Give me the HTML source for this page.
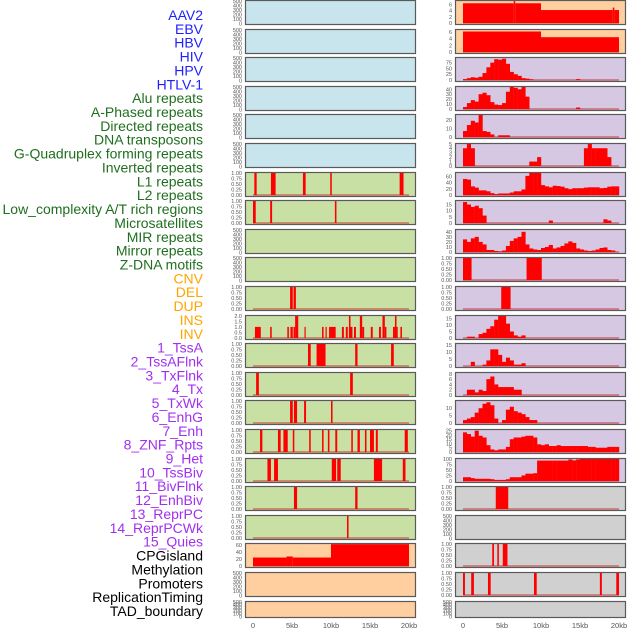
<!DOCTYPE html>
<html><head><meta charset="utf-8">
<style>
html,body{margin:0;padding:0;background:#fff;width:630px;height:630px;overflow:hidden}
svg{display:block;font-family:"Liberation Sans",sans-serif}
</style></head>
<body>
<svg id="chart" width="630" height="630" viewBox="0 0 630 630"></svg>
<script>
const labels = ["AAV2","EBV","HBV","HIV","HPV","HTLV-1","Alu repeats","A-Phased repeats","Directed repeats","DNA transposons","G-Quadruplex forming repeats","Inverted repeats","L1 repeats","L2 repeats","Low_complexity A/T rich regions","Microsatellites","MIR repeats","Mirror repeats","Z-DNA motifs","CNV","DEL","DUP","INS","INV","1_TssA","2_TssAFlnk","3_TxFlnk","4_Tx","5_TxWk","6_EnhG","7_Enh","8_ZNF_Rpts","9_Het","10_TssBiv","11_BivFlnk","12_EnhBiv","13_ReprPC","14_ReprPCWk","15_Quies","CPGisland","Methylation","Promoters","ReplicationTiming","TAD_boundary"];
const labelGroups = ["virus","virus","virus","virus","virus","virus","repeat","repeat","repeat","repeat","repeat","repeat","repeat","repeat","repeat","repeat","repeat","repeat","repeat","sv","sv","sv","sv","sv","hmm","hmm","hmm","hmm","hmm","hmm","hmm","hmm","hmm","hmm","hmm","hmm","hmm","hmm","hmm","other","other","other","other","other"];
const xTickKb = [0,5,10,15,20];
const xTickLabels = ["0","5kb","10kb","15kb","20kb"];
const binKb = 0.5;

// interval events [startKb, endKb, value]
const evAlu = [[0.17,0.47,1],[2.3,2.9,1],[6.4,6.75,1],[9.9,10.1,1],[18.8,19.3,1]];
const evAPhased = [[0,0.35,1],[2.2,2.45,1],[10.5,10.7,1]];
const evGQuad = [[4.75,5.1,1],[5.2,5.5,1]];
const evInverted = [[0.25,1.0,1],[2.2,2.4,1],[4.4,4.6,1],[4.8,5.1,1],[5.2,5.4,1],[5.4,5.8,2],[6.6,6.75,1],[8.85,9.05,1],[9.3,9.45,1],[9.75,10.6,1],[11.4,11.65,1],[11.9,12.15,1],[12.3,12.5,2],[12.5,12.75,1],[12.95,13.2,1],[13.7,14.0,2],[14.0,14.25,1],[15.1,15.35,1],[16.15,16.4,1],[16.6,16.9,2],[16.9,17.1,1],[17.95,18.2,1],[18.2,18.4,2],[18.4,18.55,1],[18.9,19.1,1]];
const evL1 = [[7.05,7.4,1],[8.15,9.3,1],[13.1,13.4,1],[17.7,18.05,1]];
const evL2 = [[0.4,0.75,1],[12.45,12.8,1]];
const evLowComp = [[4.75,5.1,1],[5.25,5.65,1],[6.55,6.8,1],[10.0,10.2,1]];
const evMicrosat = [[0.9,1.2,1],[3.2,3.55,1],[3.9,4.45,1],[5.1,5.3,1],[7.2,7.4,1],[8.85,9.05,1],[9.6,9.8,1],[10.55,10.8,1],[12.6,12.8,1],[13.4,13.7,1],[14.35,14.55,1],[15.0,15.5,1],[15.75,16.0,1],[19.45,19.85,1]];
const evMIR = [[1.85,2.3,1],[2.7,3.2,1],[10.1,10.65,1],[10.8,11.25,1],[15.5,16.55,1],[19.2,19.55,1]];
const evMirror = [[5.25,5.65,1],[13.1,13.4,1]];
const evZDNA = [[12.05,12.25,1]];
const evCNV = [[0,4.3,24],[4.3,5.1,27],[5.1,10,24],[10,20,62]];
const evINS = [[0,6.5,6.4],[6.5,6.7,7.1],[6.7,10,6.4],[10,19.2,4.2],[19.2,19.4,5],[19.4,20,4.2]];
const evINV = [[0,10,6.1],[10,20,4.4]];
const evZNF = [[0,1.1,1],[8.15,10.1,1]];
const evHet = [[4.9,6.1,1]];
const evCPG = [[4.2,5.8,1]];
const evPromoters = [[3.75,3.97,1],[4.4,4.6,1],[5.1,5.7,1]];
const evRepTiming = [[0,0.25,1],[1.05,1.4,1],[3.2,3.55,1],[9.1,9.45,1],[17.55,17.8,1],[19.65,20,1]];

// histograms: 40 bins of 0.5 kb over 0..20 kb
const hTssA = [4,8,12,10,14,30,55,75,90,88,92,70,35,25,18,8,6,3,0,0,0,0,0,0,0,0,0,0,0,4,0,0,0,0,0,0,0,0,0,0];
const hTssAFlnk = [4,12,18,15,30,33,28,14,9,8,12,35,45,43,40,45,25,0,0,0,0,0,0,0,0,0,0,0,0,3,0,0,0,0,0,0,0,0,0,0];
const hTxFlnk = [7,14,19,17,26,7,6,3,0,2,2,2,0,0,0,0,0,0,0,0,0,0,0,0,0,0,0,0,0,0,0,0,0,0,0,0,0,0,0,0];
const hTx = [4,5,4,0,0,0,0,0,0,0,0,0,0,0,0,0,0,1,1,2,0,0,0,0,0,0,0,0,0,0,0,4,5,4,4,4,4,2,0,0];
const hTxWk = [52,50,28,24,15,15,12,6,3,5,5,5,8,12,12,18,62,72,72,72,32,28,25,30,29,27,22,19,22,22,22,24,25,25,25,22,23,27,28,28];
const hEnhG = [17,15,13,14,12,6,0,0,0,0,0,0,0,0,0,0,0,0,0,0,0,0,2,0,0,0,0,0,0,0,0,0,0,0,0,0,3,2,0,0];
const hEnh = [25,20,27,30,20,15,4,4,2,1,3,12,22,27,30,40,15,7,5,4,8,10,14,7,9,12,17,21,18,7,5,3,2,3,5,8,9,4,3,0];
const hTssBiv = [0,1,1,0,3,4,7,9,14,17,17,11,5,2,1,2,0,0,0,0,0,0,0,0,0,0,0,0,0,0,0,0,0,0,0,0,0,0,0,0];
const hBivFlnk = [0,0,3,0,0,1,4,12,12,8,3,6,4,1,1,2,0,0,0,0,0,0,0,0,0,0,0,0,0,0,0,0,0,0,0,0,0,0,0,0];
const hEnhBiv = [0,2,2,1,2,1.5,6,7,4,3,3,3,3,2,2,0,0,0,0,0,0,0,0,0,0,0,0,0,0,0,0,0,0,0,0,0,0,0,0,0];
const hReprPC = [2,3,4,7,10,13,14,12,3,0,2,9,11,8,7,6,4,2,2,0,0,0,0,0,0,0,0,0,0,0,0,0,0,0,0,0,0,0,0,0];
const hReprPCWk = [23,21,18,25,19,17,8,3,2,3,3,6,15,17,17,18,19,19,17,9,8,9,7,7,8,7,7,7,7,7,7,7,6,6,5,5,5,6,6,6];
const hQuies = [17,17,13,10,10,10,10,8,5,5,5,8,17,17,17,25,33,33,35,92,92,92,92,92,92,92,92,97,93,97,100,100,100,100,100,100,100,100,100,100];

// panel specs: kind, data, y-range max, y tick values
const panelSpecs = [
 ["empty",null,500,[0,100,200,300,400,500]],
 ["empty",null,500,[0,100,200,300,400,500]],
 ["empty",null,500,[0,100,200,300,400,500]],
 ["empty",null,500,[0,100,200,300,400,500]],
 ["empty",null,500,[0,100,200,300,400,500]],
 ["empty",null,500,[0,100,200,300,400,500]],
 ["ev",evAlu,1,[0,0.25,0.5,0.75,1]],
 ["ev",evAPhased,1,[0,0.25,0.5,0.75,1]],
 ["empty",null,500,[0,100,200,300,400,500]],
 ["empty",null,500,[0,100,200,300,400,500]],
 ["ev",evGQuad,1,[0,0.25,0.5,0.75,1]],
 ["ev",evInverted,2,[0,0.5,1,1.5,2]],
 ["ev",evL1,1,[0,0.25,0.5,0.75,1]],
 ["ev",evL2,1,[0,0.25,0.5,0.75,1]],
 ["ev",evLowComp,1,[0,0.25,0.5,0.75,1]],
 ["ev",evMicrosat,1,[0,0.25,0.5,0.75,1]],
 ["ev",evMIR,1,[0,0.25,0.5,0.75,1]],
 ["ev",evMirror,1,[0,0.25,0.5,0.75,1]],
 ["ev",evZDNA,1,[0,0.25,0.5,0.75,1]],
 ["ev",evCNV,63,[0,20,40,60]],
 ["empty",null,500,[0,100,200,300,400,500]],
 ["empty",null,500,[0,100,200,300,400,500]],
 ["ev",evINS,7.2,[0,2,4,6]],
 ["ev",evINV,6.6,[0,2,4,6]],
 ["hist",hTssA,96,[0,25,50,75]],
 ["hist",hTssAFlnk,45,[0,10,20,30,40]],
 ["hist",hTxFlnk,26,[0,10,20]],
 ["hist",hTx,5,[0,1,2,3,4,5]],
 ["hist",hTxWk,72,[0,20,40,60]],
 ["hist",hEnhG,18,[0,5,10,15]],
 ["hist",hEnh,44,[0,10,20,30,40]],
 ["ev",evZNF,1,[0,0.25,0.5,0.75,1]],
 ["ev",evHet,1,[0,0.25,0.5,0.75,1]],
 ["hist",hTssBiv,17,[0,5,10,15]],
 ["hist",hBivFlnk,16,[0,5,10,15]],
 ["hist",hEnhBiv,8.4,[0,2,4,6,8]],
 ["hist",hReprPC,15,[0,5,10]],
 ["hist",hReprPCWk,26,[0,5,10,15,20,25]],
 ["hist",hQuies,100,[0,25,50,75,100]],
 ["ev",evCPG,1,[0,0.25,0.5,0.75,1]],
 ["empty",null,500,[0,100,200,300,400,500]],
 ["ev",evPromoters,1,[0,0.25,0.5,0.75,1]],
 ["ev",evRepTiming,1,[0,0.25,0.5,0.75,1]],
 ["empty",null,500,[0,100,200,300,400,500]]
];

const NS = "http://www.w3.org/2000/svg";
const svg = document.getElementById("chart");
function mk(tag, attrs, parent){
  const e = document.createElementNS(NS, tag);
  for (const k in attrs) e.setAttribute(k, attrs[k]);
  (parent||svg).appendChild(e);
  return e;
}
const labelColor = {virus:"#1f1fff", repeat:"#1f6f1f", sv:"#ffa500", hmm:"#a030f0", other:"#000"};
const ROWS = 22;

// labels
labels.forEach((t,i)=>{
  const el = mk("text",{x:203,y:15+i*13.86+5,"text-anchor":"end","font-size":"14",fill:labelColor[labelGroups[i]]});
  el.textContent = t;
  
  
});

function bgFor(i){
  const col = Math.floor(i/ROWS), row = i%ROWS;
  if (col===0){ if(row<6) return "#c8e4ec"; if(row<19) return "#c8e0a3"; return "#ffcf9f"; }
  if (row<2) return "#ffcf9f"; if (row<17) return "#d6c7e3"; return "#d0d0d0";
}

panelSpecs.forEach((spec,i)=>{
  const col = Math.floor(i/ROWS), row = i%ROWS;
  const px = col===0 ? 245 : 455;
  const pw = 171;
  const top = Math.round(row*28.6);
  const ph = row===21 ? 17 : 25;
  const g = mk("g",{});
  
  
  const kind = spec[0], data = spec[1], ymax = spec[2], ticks = spec[3];
  const sx = kb => px + 8 + kb*7.8;
  const y0 = kind==="empty" ? top+ph-1.5 : top+ph-2;
  const y1 = top+0.8;
  const sy = v => y0 - (v/ymax)*(y0-y1);
  const bg = mk("rect",{x:px,y:top,width:pw,height:ph,fill:bgFor(i)},g);
  
  
  if (kind!=="empty"){
    const bl = mk("rect",{x:sx(0),y:y0-1,width:sx(20)-sx(0),height:2,fill:"rgba(200,40,40,0.45)"},g);
    
    
  }
  if (kind==="ev"){
    data.forEach(d=>{
      const r = mk("rect",{x:sx(d[0]),y:sy(d[2]),width:Math.max(1.2,sx(d[1])-sx(d[0])),height:y0-sy(d[2]),fill:"#ff0000"},g);
      
      
    });
  } else if (kind==="hist"){
    data.forEach((v,b)=>{
      if (v<=0) return;
      const r = mk("rect",{x:sx(b*binKb),y:sy(v),width:sx((b+1)*binKb)-sx(b*binKb)+0.2,height:y0-sy(v),fill:"#ff0000"},g);
      
      
    });
  }
  const fr = mk("rect",{x:px+0.5,y:top+0.5,width:pw-1,height:ph-1,fill:"none",stroke:"#5a5a5a","stroke-width":"1.2"},g);
  
  
  ticks.forEach(t=>{
    const lab = (ymax===1) ? t.toFixed(2) : (ymax===2 ? t.toFixed(1) : String(t));
    const tx = mk("text",{x:px-3,y:sy(t)+2,"text-anchor":"end","font-size":"5.5",fill:"#555"},g);
    tx.textContent = lab;
    
    
  });
});

// x axis tick labels
[245,455].forEach(px=>{
  xTickKb.forEach((kb,j)=>{
    const t = mk("text",{x:px+8+kb*7.8,y:628,"text-anchor":"middle","font-size":"7.5",fill:"#555"});
    t.textContent = xTickLabels[j];
    
    
  });
});
</script>
</body></html>
